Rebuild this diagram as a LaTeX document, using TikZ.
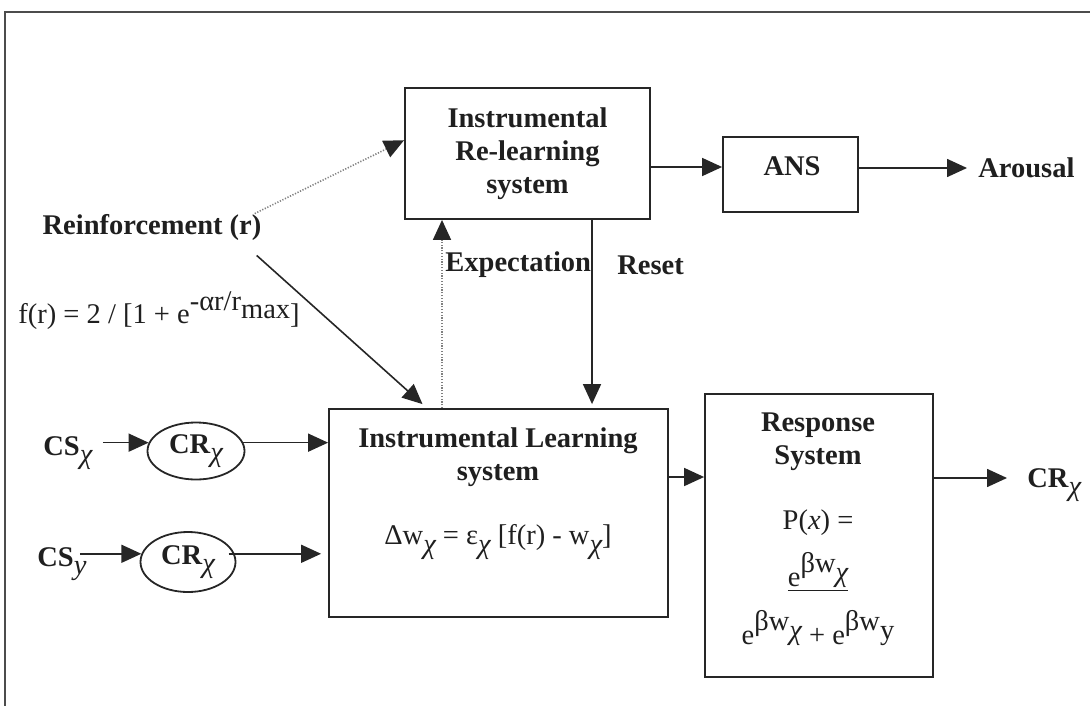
\documentclass[tikz,border=0pt]{standalone}
\usepackage{fontspec}
\setmainfont{Liberation Serif}
\usetikzlibrary{arrows.meta,calc,shapes.geometric}

% lowered chi subscript, regular weight
\newcommand\chisub{\raisebox{-0.3em}{\normalfont\itshape χ}}
\newcommand\upsc[1]{\raisebox{0.5em}{#1}}

\begin{document}
\begin{tikzpicture}[x=0.5pt,y=-0.5pt,
  txt/.style={inner sep=0pt, font=\fontsize{14.25}{16.5}\selectfont, text=black!88},
  lbl/.style={inner sep=0pt, font=\fontsize{14.25}{16.5}\selectfont\bfseries, text=black!88},
  box/.style={draw=black!85, line width=0.9pt, inner sep=0pt},
  oval/.style={draw=black!85, line width=0.9pt, ellipse, inner sep=0pt,
    font=\fontsize{14.25}{16.5}\selectfont\bfseries, text=black!88},
  conn/.style={-{Triangle[length=10pt,width=9pt]}, line width=0.8pt, draw=black!85},
  dotconn/.style={-{Triangle[length=10pt,width=9pt,color=black!85]}, line width=0.8pt,
    draw=black!50, dash pattern=on 0.6pt off 0.8pt}
]
\useasboundingbox (0,0) rectangle (1090,706);

% frame
\draw[line width=0.9pt, black!70] (1090,12) -- (5,12) -- (5,706);

% blocks
\node[box, minimum width=122.5pt, minimum height=65.5pt, align=center,
  font=\fontsize{14.25}{16.5}\selectfont\bfseries, text=black!88] (relearn) at (527.5,153.5)
  {Instrumental\\Re-learning\\system};
\node[box, minimum width=67.5pt, minimum height=37.5pt] (ans) at (790.5,174.5) {};
\node[lbl] (anstxt) at (792,166) {ANS};
\node[lbl, anchor=west] (arousal) at (978,168) {Arousal};

\node[box, minimum width=169.5pt, minimum height=104pt] (learn) at (498.5,513) {};
\node[lbl, align=center] (learnT) at (498,457) {Instrumental Learning\\system};
\node[txt] (learnF) at (498,542) {Δw\chisub{} = ε\chisub{} [f(r) - w\chisub]};

\node[box, minimum width=114pt, minimum height=141.5pt] (resp) at (819,535.5) {};
\node[lbl, align=center] (respT) at (818,442) {Response\\System};
\node[txt] (pTxt) at (818,523) {P(\textit{x}) =};
\node[txt] (pNum) at (818,572) {\underline{e\upsc{βw\chisub}}};
\node[txt] (pDen) at (818,628) {e\upsc{βw\chisub} + e\upsc{βw\raisebox{-0.3em}{y}}};
\node[lbl, anchor=base west] (crout) at (1027,487) {CR\chisub};

% inputs
\node[lbl] (reinf) at (152,227) {Reinforcement (r)};
\node[txt, anchor=base west] (fr) at (18,323)
  {f(r) = 2 / [1 + e\raisebox{0.45em}{-αr/r}\raisebox{0.15em}{max}]};
\node[lbl, anchor=base west] (csx) at (43,455) {CS\chisub};
\node[oval, minimum width=48.5pt, minimum height=28.5pt] (cr1) at (196,451) {CR\chisub};
\node[lbl, anchor=base west] (csy) at (37,566) {CS\raisebox{-0.3em}{\normalfont\itshape y}};
\node[oval, minimum width=47.5pt, minimum height=30pt] (cr2) at (188,562) {CR\chisub};

\node[lbl, anchor=west] (expl) at (445,265) {Expectation};
\node[lbl, anchor=west] (resetl) at (617,265) {Reset};

% connector levels
\coordinate (ex) at (442,0);
\coordinate (rx) at (592,0);
\coordinate (ya) at (0,167);
\coordinate (yb) at (0,477);
\coordinate (yc) at (0,478);

% connectors
\draw[dotconn] ([xshift=-3.5pt]reinf.north east) --
  ($(relearn.north west)!0.4!(relearn.south west)$);
\draw[conn] ([shift={(-5,15)}]reinf.south east) --
  ([yshift=2pt]$(learn.north west)!0.277!(learn.north east)$);
\draw[dotconn] (learn.north -| ex) -- (relearn.south -| ex);
\draw[conn] (relearn.south -| rx) -- ([yshift=2pt]learn.north -| rx);
\draw[conn] (relearn.east |- ya) -- (ans.west |- ya);
\draw[conn] (ans.east |- arousal.west) -- ([xshift=-5.5pt]arousal.west);

\draw[conn] ([xshift=5pt]csx.east |- cr1.170) -- (cr1.170);
\draw[conn] (cr1.10) -- (cr1.10 -| learn.west);
\draw[conn] ([xshift=-3.5pt]csy.east |- cr2.170) -- (cr2.170);
\draw[conn] ([xshift=-3pt]cr2.10) -- ([xshift=-3.5pt]cr2.10 -| learn.west);

\draw[conn] (learn.east |- yb) -- (resp.west |- yb);
\draw[conn] (resp.east |- yc) -- ([xshift=-10pt]crout.west |- yc);
\end{tikzpicture}
\end{document}
